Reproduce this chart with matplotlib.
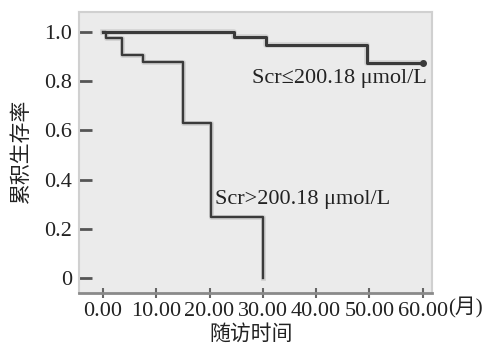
import matplotlib
matplotlib.use('Agg')
import matplotlib.pyplot as plt

# Kaplan-Meier steps (time in months, cumulative survival)
low_t = [0, 24.5, 30.5, 49.5, 60]
low_s = [1.0, 0.98, 0.945, 0.875, 0.875]
high_t = [0, 0.5, 3.6, 7.5, 15.0, 20.3, 30.0]
high_s = [1.0, 0.975, 0.905, 0.876, 0.63, 0.247, 0.0]

xticks = [0, 10, 20, 30, 40, 50, 60]
xticklabels = ['0.00', '10.00', '20.00', '30.00', '40.00', '50.00', '60.00']
yticks = [0, 0.2, 0.4, 0.6, 0.8, 1.0]
yticklabels = ['0', '0.2', '0.4', '0.6', '0.8', '1.0']

label_low = 'Scr≤200.18 μmol/L'
label_high = 'Scr>200.18 μmol/L'

plt.rcParams['font.family'] = ['Liberation Serif', 'Noto Sans CJK SC']
plt.rcParams['font.size'] = 16

fig = plt.figure(figsize=(4.93, 3.43), dpi=100)
ax = fig.add_axes([0.160, 0.146, 0.716, 0.819])
ax.set_facecolor('#ebebeb')

# faint halo under each curve, then the dark line
for t, s, lw in [(low_t, low_s, 2.2), (high_t, high_s, 1.7)]:
    ax.step(t, s, where='post', color='#d2d2d2', lw=lw + 1.8, zorder=2)
    ax.step(t, s, where='post', color='#3a3a3a', lw=lw, zorder=3)
ax.plot([60], [0.875], 'o', color='#3a3a3a', ms=4, zorder=4)

ax.text(28, 0.81, label_low, color='#222222', va='center', ha='left')
ax.text(21, 0.32, label_high, color='#222222', va='center', ha='left')

ax.set_xlim(-4.5, 61.7)
ax.set_ylim(-0.06, 1.08)
ax.set_xticks(xticks)
ax.set_xticklabels(xticklabels)
ax.set_yticks(yticks)
ax.set_yticklabels(yticklabels)
ax.tick_params(axis='x', direction='inout', length=7, width=1.5, color='#666666', pad=3, labelcolor='#222222')
ax.tick_params(axis='y', direction='in', length=9, width=2, color='#555555', pad=5, labelcolor='#222222')

ax.text(64.8, -0.055, '(月)', transform=ax.get_xaxis_transform(), ha='left', va='center',
        color='#222222', fontsize=15, clip_on=False)

for side in ['top', 'right', 'left']:
    ax.spines[side].set_color('#d0d0d0')
    ax.spines[side].set_linewidth(1.5)
ax.spines['bottom'].set_color('#8a8a8a')
ax.spines['bottom'].set_linewidth(2)

fig.text(0.51, 0.025, '随访时间', ha='center', va='center', color='#222222', fontsize=15)
fig.text(0.045, 0.56, '累积生存率', ha='center', va='center', rotation=90, color='#222222', fontsize=15)

fig.savefig('out.png', dpi=100)
